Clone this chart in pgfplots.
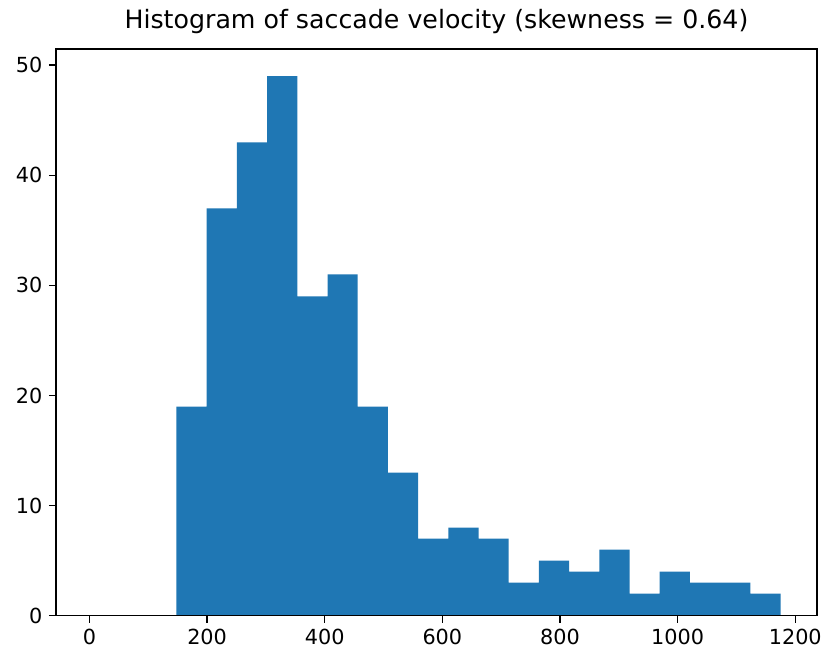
\documentclass[border=0pt]{standalone}
\usepackage{fontspec}
\setmainfont{DejaVu Sans}
\usepackage{pgfplots}
\pgfplotsset{compat=1.18}
\definecolor{mplblue}{HTML}{1F77B4}
\begin{document}
\begin{tikzpicture}
\begin{axis}[
  scale only axis,
  width=762.3bp, height=567.4bp,
  xmin=-57, xmax=1237,
  ymin=0, ymax=51.45,
  xtick={0,200,400,600,800,1000,1200},
  ytick={0,10,20,30,40,50},
  tick pos=left,
  tick align=outside,
  major tick length=7bp,
  axis line style={line width=1.5bp, black},
  every tick/.style={line width=1.5bp, black},
  /pgf/number format/assume math mode=true,
  /pgf/number format/1000 sep={},
  tick label style={font=\fontsize{20.8bp}{25bp}\selectfont, color=black},
  xticklabel style={anchor=north, yshift=-3bp},
  yticklabel style={anchor=east, xshift=-3bp},
  title={Histogram of saccade velocity (skewness = 0.64)},
  title style={at={(0.5,1)}, anchor=base, yshift=14.7bp, inner sep=0pt, font=\fontsize{25.3bp}{30bp}\selectfont, color=black},
  axis on top,
]
\addplot[ybar interval, fill=mplblue, draw=none] coordinates {
(148,19) (199.35,37) (250.7,43) (302.05,49) (353.4,29) (404.75,31)
(456.1,19) (507.45,13) (558.8,7) (610.15,8) (661.5,7) (712.85,3)
(764.2,5) (815.55,4) (866.9,6) (918.25,2) (969.6,4) (1020.95,3)
(1072.3,3) (1123.65,2) (1175,2)
};
\end{axis}
\path (current axis.south west) ++(-56bp,-38.3bp) coordinate (bbA);
\path (current axis.north east) ++(6.7bp,49.3bp) coordinate (bbB);
\useasboundingbox (bbA) rectangle (bbB);
\end{tikzpicture}
\end{document}
